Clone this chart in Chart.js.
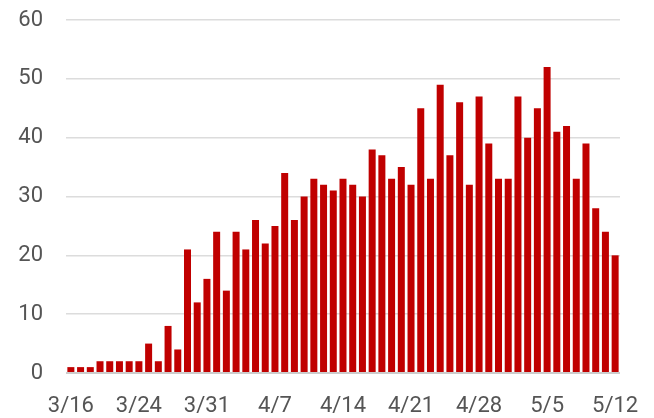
<!DOCTYPE html>
<html>
<head>
<meta charset="utf-8">
<script src="https://cdn.jsdelivr.net/npm/chart.js@4"></script>
<style>
  html, body { margin: 0; padding: 0; background: #fff; }
  #wrap { width: 654px; height: 418px; }
</style>
</head>
<body>
<div id="wrap"><canvas id="myChart" width="654" height="418"></canvas></div>
<script>
// dates (one bar per day, 3/17 missing in the source)
var fechas = ["3/16", "3/18", "3/19", "3/20", "3/21", "3/22", "3/23", "3/24", "3/25", "3/26",
    "3/27", "3/28", "3/29", "3/30", "3/31", "4/1", "4/2", "4/3", "4/4", "4/5",
    "4/6", "4/7", "4/8", "4/9", "4/10", "4/11", "4/12", "4/13", "4/14", "4/15",
    "4/16", "4/17", "4/18", "4/19", "4/20", "4/21", "4/22", "4/23", "4/24", "4/25",
    "4/26", "4/27", "4/28", "4/29", "4/30", "5/1", "5/2", "5/3", "5/4", "5/5",
    "5/6", "5/7", "5/8", "5/9", "5/10", "5/11", "5/12"];
var valores = [1, 1, 1, 2, 2, 2, 2, 2, 5, 2,
    8, 4, 21, 12, 16, 24, 14, 24, 21, 26,
    22, 25, 34, 26, 30, 33, 32, 31, 33, 32,
    30, 38, 37, 33, 35, 32, 45, 33, 49, 37,
    46, 32, 47, 39, 33, 33, 47, 40, 45, 52,
    41, 42, 33, 39, 28, 24, 20];
var etiquetasX = ["3/16", "3/24", "3/31", "4/7", "4/14", "4/21", "4/28", "5/5", "5/12"];
var etiquetasY = [0, 10, 20, 30, 40, 50, 60];

var ctx = document.getElementById('myChart').getContext('2d');
var fuente = { family: "Roboto", size: 22 };
var myChart = new Chart(ctx, {
    type: 'bar',
    data: {
        labels: fechas,
        datasets: [{
            data: valores,
            backgroundColor: "#c00000",
            categoryPercentage: 1,
            barPercentage: 0.72
        }]
    },
    options: {
        responsive: false,
        animation: false,
        layout: { padding: { left: 0, right: 34, top: 20, bottom: 0 } },
        plugins: { legend: { display: false }, tooltip: { enabled: false } },
        scales: {
            x: {
                offset: true,
                grid: { display: false },
                border: { display: false },
                ticks: {
                    autoSkip: false,
                    maxRotation: 0,
                    padding: 12,
                    color: "#555555",
                    font: fuente,
                    callback: function(val, i) {
                        var f = fechas[i];
                        return etiquetasX.includes(f) ? f : null;
                    }
                },
                afterFit: function(scale) { scale.height = 45; }
            },
            y: {
                min: etiquetasY[0],
                max: etiquetasY[etiquetasY.length - 1],
                border: { display: false },
                grid: {
                    drawTicks: false,
                    color: function(c) { return c.tick.value === 0 ? "#cccccc" : "#dcdcdc"; },
                    lineWidth: function(c) { return c.tick.value === 0 ? 2 : 1.5; }
                },
                ticks: {
                    stepSize: 10,
                    padding: 23,
                    color: "#555555",
                    font: fuente
                },
                afterFit: function(scale) {
                    scale.width = 66;
                    scale.paddingTop = 0;
                    scale.paddingBottom = 0;
                }
            }
        }
    }
});
</script>
</body>
</html>
